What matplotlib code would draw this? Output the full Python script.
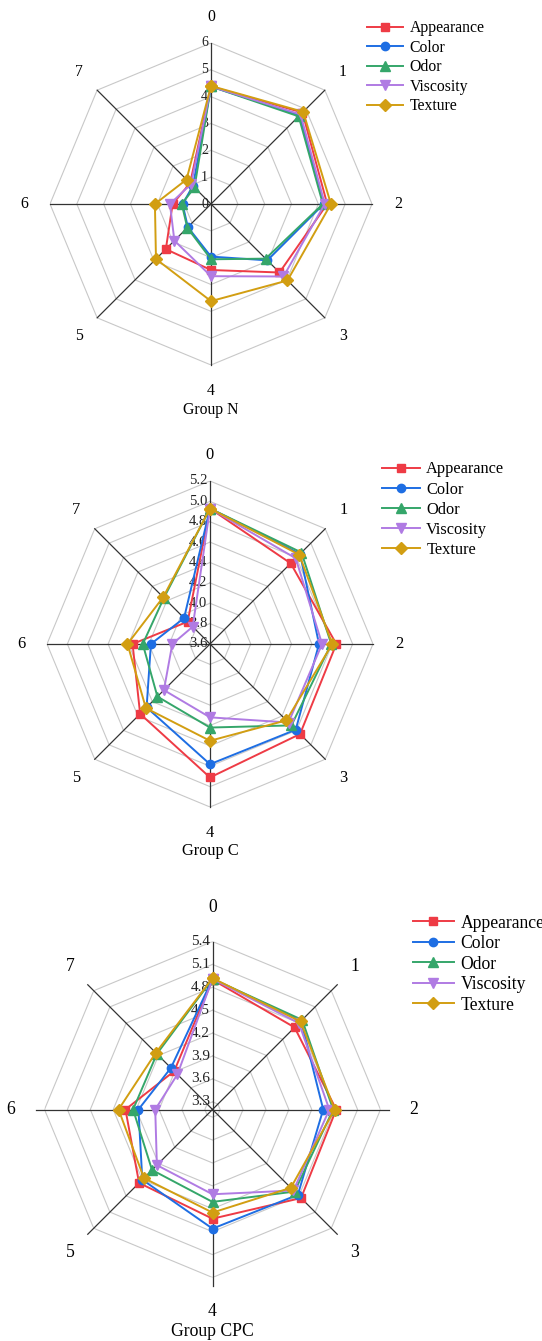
import matplotlib
matplotlib.use("Agg")
import matplotlib.pyplot as plt
import numpy as np

plt.rcParams["font.family"] = ["Liberation Serif", "DejaVu Serif"]

W, H = 542, 1341

# attribute names and axis numbers
series = ["Appearance", "Color", "Odor", "Viscosity", "Texture"]
spokes = ["0", "1", "2", "3", "4", "5", "6", "7"]

# Group N scores, spokes 0..7
n_appearance = [4.38, 4.82, 4.33, 3.61, 2.46, 2.38, 1.43, 1.10]
n_color = [4.38, 4.68, 4.20, 2.97, 1.96, 1.22, 1.06, 0.95]
n_odor = [4.38, 4.62, 4.17, 2.88, 2.06, 1.25, 1.09, 0.87]
n_viscosity = [4.38, 4.72, 4.24, 3.82, 2.69, 1.93, 1.53, 1.05]
n_texture = [4.40, 4.86, 4.47, 4.03, 3.62, 2.90, 2.09, 1.29]

# Group C scores
c_appearance = [4.93, 4.72, 4.84, 4.85, 4.91, 4.57, 4.36, 3.91]
c_color = [4.93, 4.85, 4.67, 4.79, 4.78, 4.48, 4.18, 3.96]
c_odor = [4.93, 4.87, 4.79, 4.73, 4.42, 4.33, 4.26, 4.24]
c_viscosity = [4.93, 4.79, 4.70, 4.69, 4.32, 4.24, 3.97, 3.84]
c_texture = [4.93, 4.84, 4.80, 4.66, 4.55, 4.49, 4.41, 4.25]

# Group CPC scores
p_appearance = [4.90, 4.72, 4.82, 4.84, 4.63, 4.56, 4.34, 3.91]
p_color = [4.91, 4.84, 4.65, 4.78, 4.76, 4.50, 4.17, 3.97]
p_odor = [4.91, 4.86, 4.78, 4.72, 4.41, 4.32, 4.24, 4.23]
p_viscosity = [4.91, 4.80, 4.73, 4.70, 4.31, 4.23, 3.95, 3.85]
p_texture = [4.92, 4.83, 4.80, 4.65, 4.55, 4.47, 4.43, 4.25]

# radial ticks of each panel
n_ticks = [0, 1, 2, 3, 4, 5, 6]
c_ticks = [3.6, 3.8, 4.0, 4.2, 4.4, 4.6, 4.8, 5.0, 5.2]
p_ticks = [3.3, 3.6, 3.9, 4.2, 4.5, 4.8, 5.1, 5.4]

colors = ["#EE3B45", "#1E6EE3", "#35A66A", "#B07BE3", "#D29E12"]
markers = ["s", "o", "^", "v", "D"]
msizes = [6, 6, 6.5, 6.5, 6]

panels = [
    dict(title="Group N", data=[n_appearance, n_color, n_odor, n_viscosity, n_texture],
         ticks=n_ticks, rmin=0, fmt="{:g}", cx=211, cy=204, R=161, fs=11.3, tfs=10,
         lab=1.16, ttl=1.28, spoke=1.0, leg=(367, 20.5), ls=0.22),
    dict(title="Group C", data=[c_appearance, c_color, c_odor, c_viscosity, c_texture],
         ticks=c_ticks, rmin=3.6, fmt="{:.1f}", cx=210, cy=644, R=163, fs=11.8, tfs=10.5,
         lab=1.16, ttl=1.27, spoke=1.0, leg=(382, 461.5), ls=0.25),
    dict(title="Group CPC", data=[p_appearance, p_color, p_odor, p_viscosity, p_texture],
         ticks=p_ticks, rmin=3.2, fmt="{:.1f}", cx=212.5, cy=1109.5, R=168, fs=12.7, tfs=11,
         lab=1.2, ttl=1.32, spoke=1.05, leg=(413, 914.5), ls=0.2),
]

fig = plt.figure(figsize=(W / 100, H / 100), dpi=100)

theta = np.arange(len(spokes)) * 2 * np.pi / len(spokes)
theta_c = np.append(theta, theta[0])

for p in panels:
    R = p["R"]
    ax = fig.add_axes([(p["cx"] - R) / W, 1 - (p["cy"] + R) / H, 2 * R / W, 2 * R / H],
                      projection="polar")
    rmin, rmax = p["rmin"], p["ticks"][-1]
    span = rmax - rmin
    ax.set_theta_zero_location("N")
    ax.set_theta_direction(-1)
    ax.set_ylim(rmin, rmax)
    ax.grid(False)
    ax.spines["polar"].set_visible(False)
    ax.set_xticks([])
    ax.set_yticks([])
    ax.patch.set_alpha(0)

    # octagon rings
    for t in p["ticks"]:
        if t > rmin:
            ax.plot(theta_c, [t] * len(theta_c), color="#c8c8c8", lw=0.8, zorder=1)
    # spokes
    for i, th in enumerate(theta):
        top = rmax if i == 0 else rmin + span * p["spoke"]
        ax.plot([th, th], [rmin, top], color="#333333", lw=0.9, zorder=2, clip_on=False)

    # radial tick labels
    for t in p["ticks"]:
        ax.annotate(p["fmt"].format(t), xy=(0, t), xytext=(-2, 0), textcoords="offset points",
                    ha="right", va="center", fontsize=p["tfs"], color="#222222", zorder=3)

    # spoke labels
    for th, s in zip(theta, spokes):
        ax.text(th, rmin + span * p["lab"], s, ha="center", va="center",
                fontsize=p["fs"], clip_on=False)
    ax.text(np.pi, rmin + span * p["ttl"], p["title"], ha="center", va="center",
            fontsize=p["fs"], clip_on=False)

    handles = []
    for vals, name, col, mk, ms in zip(p["data"], series, colors, markers, msizes):
        v = list(vals) + [vals[0]]
        h, = ax.plot(theta_c, v, color=col, lw=1.4, marker=mk, markersize=ms,
                     label=name, zorder=5, clip_on=False)
        handles.append(h)

    lx, ly = p["leg"]
    fig.legend(handles=handles, loc="upper left", bbox_to_anchor=(lx / W, 1 - ly / H),
               bbox_transform=fig.transFigure, frameon=False, fontsize=p["fs"],
               borderpad=0, borderaxespad=0, handlelength=2.3, handletextpad=0.4,
               labelspacing=p["ls"])

fig.savefig("out.png", dpi=100, facecolor="white")
